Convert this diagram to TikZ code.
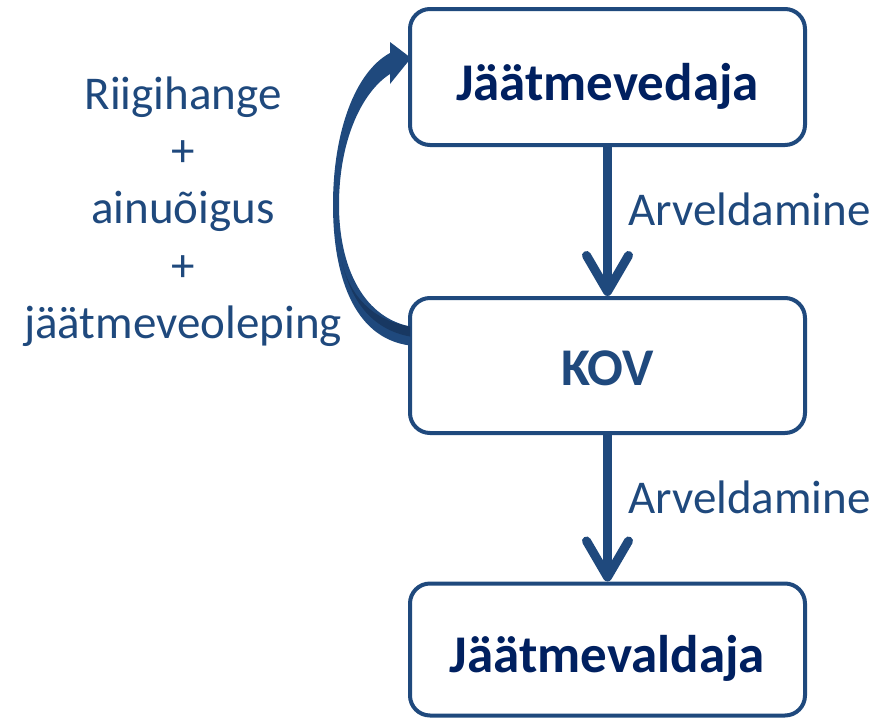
\documentclass[tikz,border=0pt]{standalone}
\usepackage{fontspec}
\setmainfont{Carlito}
\usetikzlibrary{arrows.meta,calc}
\definecolor{bordc}{RGB}{31,73,125}
\definecolor{navy}{RGB}{0,32,96}
\definecolor{darkband}{RGB}{24,56,98}
\begin{document}
\begin{tikzpicture}[x=1pt,y=-1pt,
  box/.style={draw=bordc, line width=4pt, rounded corners=20pt, fill=white,
    minimum width=395pt, minimum height=136pt, inner sep=0pt,
    font=\fontsize{53}{60}\selectfont\bfseries},
  lbl/.style={text=bordc, font=\fontsize{47}{56}\selectfont, inner sep=0pt, anchor=base},
  flow/.style={draw=bordc, line width=9pt,
    -{Straight Barb[length=36pt,width=42pt,round]}}]
\useasboundingbox (0,0) rectangle (892,718);

\node[box, text=navy, text height=48pt, text depth=2pt] (top) at (607.5,77) {Jäätmevedaja};
\node[box, text=bordc, text height=41pt, text depth=2pt, minimum height=135pt] (kov) at (607.5,365.5) {KOV};
\node[box, text=navy, text height=47pt, text depth=2pt, minimum height=132pt] (bot) at (607.5,649.5) {Jäätmevaldaja};

\draw[flow] (top.south) -- (kov.north);
\draw[flow] (kov.south) -- (bot.north);

\node[lbl, anchor=base west] (a1) at (628,225) {Arveldamine};
\node[lbl, anchor=base west] (a2) at (628,513) {Arveldamine};

\node[lbl] (l1) at (183,109) {Riigihange};
\node[lbl] (l2) at (183,166) {+};
\node[lbl] (l3) at (183,223.5) {ainuõigus};
\node[lbl] (l4) at (183,281) {+};
\node[lbl] (l5) at (183,338) {jäätmeveoleping};

% curved tapered arrow from KOV to Jäätmevedaja
\coordinate (s1) at ($(kov.west)+(2,-20)$);
\coordinate (s2) at ($(kov.west)+(2,-39)$);
\coordinate (tip) at ($(top.west)+(3,-19)$);
\fill[bordc] (s1) .. controls (352,338) and (333,272) .. (333,205)
  .. controls (333,132) and (355,72) .. (390,53)
  -- (390,42) -- (tip) -- (390,84) -- (390,74)
  .. controls (362,92) and (339,140) .. (339,205)
  .. controls (339,262) and (360,316) .. (s2) -- cycle;
\fill[darkband] (s2) .. controls (372,320) and (350,296) .. (342,262)
  .. controls (352,305) and (375,330) .. ($(s2)+(0,10)$) -- cycle;
\end{tikzpicture}
\end{document}
